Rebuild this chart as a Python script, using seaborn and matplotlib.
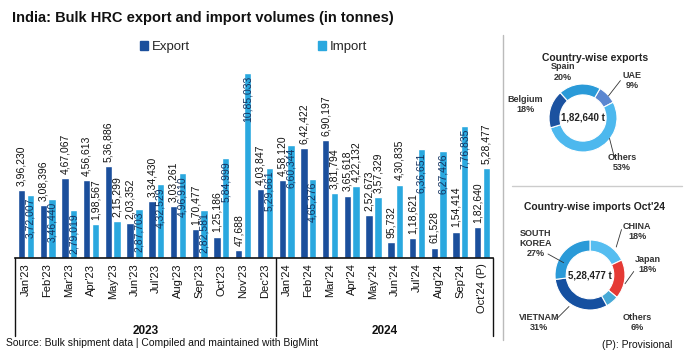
import numpy as np
import pandas as pd
import matplotlib
matplotlib.use("Agg")
import matplotlib.pyplot as plt
import matplotlib.transforms as mtransforms
from matplotlib.patches import Patch
import seaborn as sns

# ---------------- data ----------------
months = ["Jan'23", "Feb'23", "Mar'23", "Apr'23", "May'23", "Jun'23", "Jul'23",
          "Aug'23", "Sep'23", "Oct'23", "Nov'23", "Dec'23", "Jan'24", "Feb'24",
          "Mar'24", "Apr'24", "May'24", "Jun'24", "Jul'24", "Aug'24", "Sep'24",
          "Oct'24 (P)"]
export_vals = [396230, 308396, 467067, 456613, 536886, 203352, 334430, 303261,
               170477, 125186, 47688, 403847, 458120, 642422, 690197, 365618,
               252673, 95732, 118621, 61528, 154414, 182640]
import_vals = [372007, 346440, 279019, 198567, 215299, 287703, 432529, 496910,
               282581, 584999, 1085033, 529661, 660344, 465276, 381794, 422132,
               357329, 430835, 636651, 627426, 776835, 528477]
import_label_inside = [True, True, True, False, False, True, True, True, True,
                       True, True, True, True, True, False, False, False, False,
                       True, True, True, False]
years = ["2023", "2024"]

exp_countries = ["UAE", "Others", "Belgium", "Spain"]
exp_shares = [9, 53, 18, 20]
exp_total = 182640
imp_countries = ["CHINA", "Japan", "Others", "VIETNAM", "SOUTH\nKOREA"]
imp_shares = [18, 18, 6, 31, 27]
imp_total = 528477

# ---------------- style ----------------
EXP_C = "#1b4f9c"
IMP_C = "#2aa8df"
sns.set_theme(style="white")
plt.rcParams["font.family"] = ["Liberation Sans", "DejaVu Sans"]


def indian(n):
    s = str(int(n))
    if len(s) <= 3:
        return s
    last3 = s[-3:]
    rest = s[:-3]
    parts = []
    while len(rest) > 2:
        parts.insert(0, rest[-2:])
        rest = rest[:-2]
    if rest:
        parts.insert(0, rest)
    return ",".join(parts + [last3])


W, H = 688, 361
fig = plt.figure(figsize=(W / 100, H / 100), dpi=100)


def px_axes(x0, y0, x1, y1):
    return fig.add_axes([x0 / W, 1 - y1 / H, (x1 - x0) / W, (y1 - y0) / H])


# ---------------- bar chart ----------------
ax = px_axes(15, 60, 493, 258)
df = pd.DataFrame({
    "Month": months * 2,
    "Type": ["Export"] * len(months) + ["Import"] * len(months),
    "Value": export_vals + import_vals,
})
sns.barplot(data=df, x="Month", y="Value", hue="Type", order=months,
            hue_order=["Export", "Import"], palette=[EXP_C, IMP_C],
            width=0.8, gap=0.15, ax=ax, legend=False, saturation=1)
ax.set_xlim(-0.5, len(months) - 0.5)
ax.set_ylim(0, 1161000)
ax.set_xlabel("")
ax.set_ylabel("")
ax.set_yticks([])
for s in ["top", "right", "left"]:
    ax.spines[s].set_visible(False)
ax.spines["bottom"].set_color("#111111")
ax.spines["bottom"].set_linewidth(1.2)
ax.tick_params(axis="x", length=0, pad=4)
ax.set_xticks(range(len(months)))
ax.set_xticklabels(months, rotation=90, fontsize=8, color="#111111")

exp_bars, imp_bars = ax.containers[0], ax.containers[1]
for p, v in zip(exp_bars, export_vals):
    ax.annotate(indian(v), (p.get_x() + p.get_width() / 2, p.get_height()),
                xytext=(0, 3), textcoords="offset points", rotation=90,
                ha="center", va="bottom", fontsize=7.5, color="#111111")
for p, v, inside in zip(imp_bars, import_vals, import_label_inside):
    if inside:
        ax.annotate(indian(v), (p.get_x() + p.get_width() / 2, p.get_height()),
                    xytext=(0, -2), textcoords="offset points", rotation=90,
                    ha="center", va="top", fontsize=7.5, color="#15325f")
    else:
        ax.annotate(indian(v), (p.get_x() + p.get_width() / 2, p.get_height()),
                    xytext=(0, 3), textcoords="offset points", rotation=90,
                    ha="center", va="bottom", fontsize=7.5, color="#111111")

# year grouping lines
trans = mtransforms.blended_transform_factory(ax.transData, ax.transAxes)
ylow = -(336 - 258) / 198
for xv in [-0.5, 11.5, len(months) - 0.5]:
    ax.plot([xv, xv], [0, ylow], transform=trans, color="#111111", lw=1.0,
            clip_on=False)
ax.text(5.5, -(331 - 258) / 198, years[0], transform=trans, ha="center",
        va="center", fontsize=8.5, fontweight="bold", color="#111111")
ax.text(16.5, -(331 - 258) / 198, years[1], transform=trans, ha="center",
        va="center", fontsize=8.5, fontweight="bold", color="#111111")

# legend
handles = [Patch(color=EXP_C, label="Export"), Patch(color=IMP_C, label="Import")]
fig.legend(handles=handles, loc="center left", bbox_to_anchor=(128 / W, 1 - 47 / H),
           ncol=2, frameon=False, fontsize=9.5, handlelength=0.6, handleheight=0.6,
           handletextpad=0.3, columnspacing=9.7)

# title & notes
fig.text(12 / W, 1 - 18 / H, "India: Bulk HRC export and import volumes (in tonnes)",
         fontsize=10.5, fontweight="bold", ha="left", va="center", color="#111111")
fig.text(6 / W, 1 - 343 / H,
         "Source: Bulk shipment data | Compiled and maintained with BigMint",
         fontsize=7.5, ha="left", va="center", color="#111111")
fig.text(672 / W, 1 - 345 / H, "(P): Provisional", fontsize=7.5, ha="right",
         va="center", color="#111111")

# separators
fig.add_artist(plt.Line2D([503 / W, 503 / W], [1 - 35 / H, 1 - 340 / H],
                          color="#bbbbbb", lw=1))
fig.add_artist(plt.Line2D([512 / W, 682 / W], [1 - 186 / H, 1 - 186 / H],
                          color="#cccccc", lw=1))

# ---------------- donuts ----------------
LAB = dict(fontsize=6.5, fontweight="bold", color="#333333", ha="center",
           va="center")


def donut(cx, cy, r_px, shares, colors, startangle, total, labels):
    size = 100
    dax = px_axes(cx - size / 2, cy - size / 2, cx + size / 2, cy + size / 2)
    lim = size / 2 / r_px
    dax.pie(shares, colors=colors, startangle=startangle, counterclock=False,
            radius=1, wedgeprops=dict(width=0.32, edgecolor="white", linewidth=0.8))
    dax.set_xlim(-lim, lim)
    dax.set_ylim(-lim, lim)
    dax.set_aspect("equal")
    dax.axis("off")
    dax.text(0, 0, indian(total) + " t", fontsize=7, fontweight="semibold",
             color="#222222", ha="center", va="center")
    for text, (tx, ty), line in labels:
        dax.text(tx, ty, text, clip_on=False, **LAB)
        if line is not None:
            dax.plot([line[0], line[2]], [line[1], line[3]], color="#333333",
                     lw=0.6, clip_on=False)
    return dax


fig.text(595 / W, 1 - 58 / H, "Country-wise exports", fontsize=7.5,
         fontweight="bold", ha="center", va="center", color="#222222")
exp_colors = ["#5b86d0", "#4db8ee", "#1b52a0", "#2a9ad8"]
exp_labels = [
    (exp_countries[0] + "\n" + f"{exp_shares[0]}%", (1.45, 1.1), (1.1, 1.1, 0.75, 0.65)),
    (exp_countries[1] + "\n" + f"{exp_shares[1]}%", (1.15, -1.3), (0.92, -1.15, 0.78, -0.6)),
    (exp_countries[2] + "\n" + f"{exp_shares[2]}%", (-1.7, 0.4), None),
    (exp_countries[3] + "\n" + f"{exp_shares[3]}%", (-0.6, 1.35), None),
]
donut(583, 118, 34, exp_shares, exp_colors, 60, exp_total, exp_labels)

fig.text(595 / W, 1 - 207 / H, "Country-wise imports Oct'24", fontsize=7.5,
         fontweight="bold", ha="center", va="center", color="#222222")
imp_colors = ["#55bdf0", "#e53a35", "#47a9d6", "#1550a0", "#2a9ad8"]
imp_labels = [
    (imp_countries[0] + "\n" + f"{imp_shares[0]}%", (1.35, 1.25), (0.9, 1.3, 0.75, 0.8)),
    (imp_countries[1] + "\n" + f"{imp_shares[1]}%", (1.65, 0.3), (1.25, 0.1, 1.0, -0.25)),
    (imp_countries[2] + "\n" + f"{imp_shares[2]}%", (1.35, -1.35), None),
    (imp_countries[3] + "\n" + f"{imp_shares[3]}%", (-1.45, -1.35), (-0.95, -1.25, -0.6, -0.9)),
    (imp_countries[4] + "\n" + f"{imp_shares[4]}%", (-1.55, 0.9), (-1.2, 0.6, -0.75, 0.35)),
]
donut(590, 275, 35, imp_shares, imp_colors, 90, imp_total, imp_labels)

fig.savefig("out.png", dpi=100)
